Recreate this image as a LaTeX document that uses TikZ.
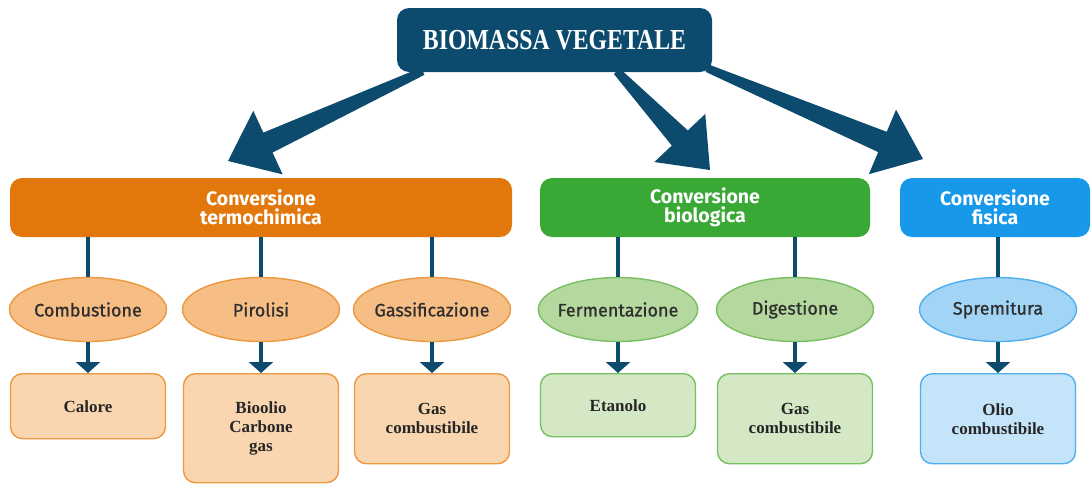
\documentclass[tikz,border=0pt]{standalone}
\usepackage{fontspec}
\setmainfont{Liberation Serif}
\setsansfont{Fira Sans}
\newfontfamily\ellfont{Fira Sans}[FakeBold=0.9]
\usetikzlibrary{calc,arrows.meta,shapes.geometric}

\definecolor{titleblue}{RGB}{12,74,110}
\definecolor{termocol}{RGB}{226,120,12}
\definecolor{biocol}{RGB}{58,168,52}
\definecolor{fiscol}{RGB}{24,152,232}
\definecolor{termoell}{RGB}{246,190,132}
\definecolor{termobox}{RGB}{250,214,176}
\definecolor{termoline}{RGB}{236,152,64}
\definecolor{bioell}{RGB}{180,216,158}
\definecolor{biobox}{RGB}{212,232,198}
\definecolor{bioline}{RGB}{120,190,98}
\definecolor{fisell}{RGB}{162,212,245}
\definecolor{fisbox}{RGB}{196,228,250}
\definecolor{fisline}{RGB}{80,174,236}

% wide tapered arrow from #1 to #2
\newcommand\bigarrow[2]{%
  \path ($(#2)!44pt!(#1)$) coordinate (hb);
  \fill[titleblue] ($(#1)!4pt!90:(#2)$) -- ($(hb)!11pt!90:(#2)$) -- ($(hb)!35pt!90:(#2)$) -- (#2)
    -- ($(hb)!35pt!-90:(#2)$) -- ($(hb)!11pt!-90:(#2)$) -- ($(#1)!4pt!-90:(#2)$) -- cycle;
}

\begin{document}
\begin{tikzpicture}[x=1pt,y=-1pt,
    cat/.style={rounded corners=12pt,minimum height=59pt,inner sep=0pt,text=white,align=center,
      font=\sffamily\bfseries\fontsize{19.5}{19}\selectfont},
    proc/.style={ellipse,draw,line width=1.4pt,minimum width=157pt,minimum height=64pt,
      inner xsep=-4pt,inner ysep=0pt,text=black!82,font=\ellfont\fontsize{18}{20}\selectfont},
    res/.style={rounded corners=12pt,draw,line width=1.4pt,minimum width=155pt,anchor=north,align=center,
      text=black!85,font=\bfseries\fontsize{17}{19}\selectfont},
    link/.style={titleblue,line width=4pt},
    down/.style={link,-{Triangle[width=24pt,length=11pt]}}]
  \useasboundingbox (0,0) rectangle (1092,483);

  \node [fill=titleblue,rounded corners=12pt,minimum width=315pt,minimum height=64pt,text=white,
    font=\bfseries\fontsize{29}{30}\selectfont] (title) at (554.5,40) {\scalebox{0.82}[1]{BIOMASSA VEGETALE}};

  \node [cat,fill=termocol,minimum width=502pt] (termo) at (261,207.5) {Conversione\\termochimica};
  \node [cat,fill=biocol,minimum width=330pt] (biol) at (705,207.5) {Conversione\\biologica};
  \node [cat,fill=fiscol,minimum width=190pt] (fisica) at (995,207.5) {Conversione\\fisica};

  \coordinate (lstart) at ($(title.south west)+(26,-1)$);
  \coordinate (mstart) at ($(title.south west)+(220,-1)$);
  \coordinate (rstart) at ($(title.south east)+(-5,-4)$);
  \coordinate (ltip) at (228,161);
  \coordinate (mtip) at (710,170);
  \coordinate (rtip) at (923,159);
  \bigarrow{lstart}{ltip}
  \bigarrow{mstart}{mtip}
  \bigarrow{rstart}{rtip}

  \node [proc,fill=termoell,draw=termoline] (comb) at (88,309.5) {Combustione};
  \node [proc,fill=termoell,draw=termoline] (piro) at (261,309.5) {Pirolisi};
  \node [proc,fill=termoell,draw=termoline] (gass) at (432,309.5) {Gassificazione};
  \node [proc,fill=bioell,draw=bioline] (ferm) at (618,309.5) {Fermentazione};
  \node [proc,fill=bioell,draw=bioline] (dige) at (795,309.5) {Digestione};
  \node [proc,fill=fisell,draw=fisline] (spre) at (998,309.5) {Spremitura};

  \node [res,fill=termobox,draw=termoline,minimum height=65pt] (calore) at (88,373) {Calore};
  \node [res,fill=termobox,draw=termoline,minimum height=109pt] (bioolio) at (261,373) {Bioolio\\Carbone\\gas};
  \node [res,fill=termobox,draw=termoline,minimum height=90pt] (gasa) at (432,373) {Gas\\combustibile};
  \node [res,fill=biobox,draw=bioline,minimum height=63pt] (etanolo) at (618,373) {Etanolo};
  \node [res,fill=biobox,draw=bioline,minimum height=90pt] (gasb) at (795,373) {Gas\\combustibile};
  \node [res,fill=fisbox,draw=fisline,minimum height=90pt] (olio) at (998,373) {Olio\\combustibile};

  \foreach \p/\c in {comb/termo,piro/termo,gass/termo,ferm/biol,dige/biol,spre/fisica}
    \draw [link] (\p.north |- \c.south) -- (\p.north);
  \foreach \p/\r in {comb/calore,piro/bioolio,gass/gasa,ferm/etanolo,dige/gasb,spre/olio}
    \draw [down] (\p.south) -- (\r.north);
\end{tikzpicture}
\end{document}
